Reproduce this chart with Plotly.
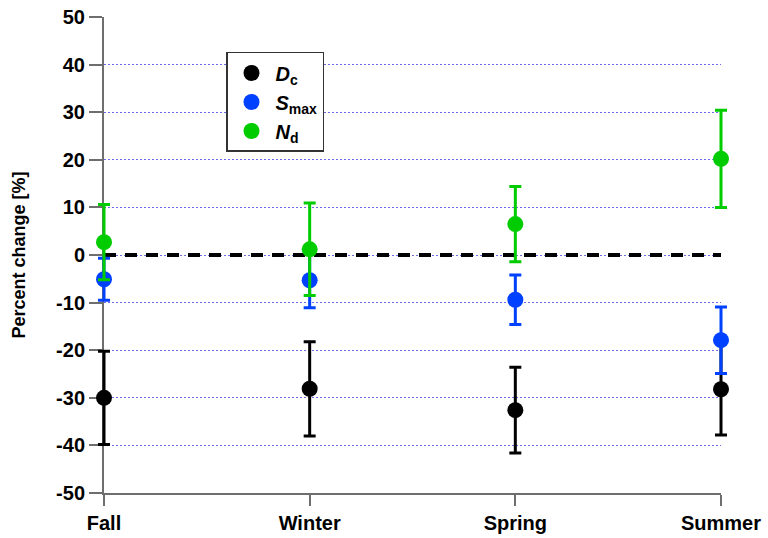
import plotly.graph_objects as go

seasons = ["Fall", "Winter", "Spring", "Summer"]
dc_vals = [-30.0, -28.1, -32.6, -28.2]
dc_err = [9.8, 9.9, 9.0, 9.6]
smax_vals = [-5.1, -5.3, -9.4, -17.9]
smax_err = [4.4, 5.8, 5.2, 7.0]
nd_vals = [2.7, 1.2, 6.5, 20.2]
nd_err = [7.9, 9.7, 7.9, 10.2]
y_ticks = [-50, -40, -30, -20, -10, 0, 10, 20, 30, 40, 50]
y_ticktext = ["-50", "-40", "-30", "-20", "-10", "0", "10", "20", "30", "40", "50"]

series = [
    ("<b><i>D</i><sub>c</sub></b>", dc_vals, dc_err, "#000000"),
    ("<b><i>S</i><sub>max</sub></b>", smax_vals, smax_err, "#0040ff"),
    ("<b><i>N</i><sub>d</sub></b>", nd_vals, nd_err, "#00cc00"),
]

# geometry: outer plot area 83..742 px; visible axes 104..721 px (Fall..Summer)
W, H = 768, 538
L_OUT, R_OUT = 83, 742
L_IN, R_IN = 104, 721
span = R_OUT - L_OUT
unit = (R_IN - L_IN) / 3.0
pad = (L_IN - L_OUT) / unit
dom_in = [(L_IN - L_OUT) / span, (R_IN - L_OUT) / span]

xpos = list(range(len(seasons)))
fig = go.Figure()
for name, vals, err, color in series:
    fig.add_trace(go.Scatter(
        x=xpos, y=vals, mode="markers", name=name, cliponaxis=False,
        xaxis="x2", yaxis="y2",
        marker=dict(color=color, size=16),
        error_y=dict(type="data", array=err, visible=True, color=color,
                     thickness=3, width=6),
    ))

fig.add_shape(type="line", xref="x", yref="y", x0=0, x1=3, y0=0, y1=0,
              line=dict(color="black", width=4, dash="12px,9px"), layer="between")

font_family = "Arial, Liberation Sans, sans-serif"
fig.update_layout(
    width=W, height=H,
    margin=dict(l=L_OUT, r=W - R_OUT, t=17, b=45, autoexpand=False),
    plot_bgcolor="rgba(0,0,0,0)", paper_bgcolor="white",
    font=dict(family=font_family, color="black"),
    showlegend=True,
    legend=dict(x=(226 - L_IN) / (R_IN - L_IN) * (dom_in[1] - dom_in[0]) + dom_in[0],
                y=0.9265, xanchor="left", yanchor="top",
                bordercolor="#333333", borderwidth=1.5,
                font=dict(size=20, family=font_family),
                bgcolor="white", itemwidth=38,
                tracegroupgap=0),
    xaxis=dict(domain=dom_in, anchor="y", range=[0, 3], tickmode="array", tickvals=xpos,
               ticktext=["<b>%s</b>" % s for s in seasons],
               showgrid=False, zeroline=False, showline=True,
               linecolor="#6e6e6e", linewidth=2,
               ticks="outside", ticklen=11, tickcolor="#6e6e6e", tickwidth=2,
               tickfont=dict(size=20, family=font_family),
               ticklabeloverflow="allow",
               automargin=False, fixedrange=True),
    yaxis=dict(anchor="x", range=[-50, 50], tickmode="array", tickvals=y_ticks,
               ticktext=["<b>%s</b>" % t for t in y_ticktext],
               showgrid=True, gridcolor="#6c6ce8", griddash="2px,2px", gridwidth=1,
               zeroline=False, showline=True, linecolor="#6e6e6e", linewidth=2,
               ticks="outside", ticklen=13, tickcolor="#6e6e6e", tickwidth=2,
               tickfont=dict(size=20, family=font_family),
               ticklabeloverflow="allow",
               title=dict(text="<b>Percent change [%]</b>", font=dict(size=18),
                          standoff=26),
               automargin=False, fixedrange=True),
    xaxis2=dict(domain=[0, 1], anchor="y2", range=[-pad, 3 + pad], visible=False,
                fixedrange=True),
    yaxis2=dict(domain=[0, 1], anchor="x2", range=[-50, 50], visible=False,
                fixedrange=True),
)

# remove the browser's default 8px body margin so the figure fills the window
fig.write_html("out.html", config={"displayModeBar": False},
               post_script="document.body.style.margin='0px';")
